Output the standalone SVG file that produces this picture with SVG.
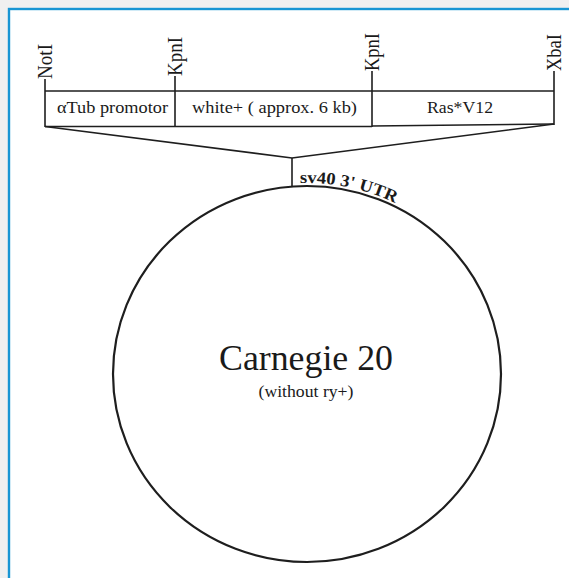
<svg xmlns="http://www.w3.org/2000/svg" width="569" height="578" viewBox="0 0 569 578">
<style>
.ln{stroke:#1e1e1e;stroke-width:1.6;fill:none}
.t{font-family:"Liberation Serif","Times New Roman",Times,serif;fill:#1a1a1a}
.site{font-size:20px}
.seg{font-size:17px}
</style>
<rect x="0" y="0" width="569" height="578" fill="#f0f0f0"/>
<rect x="9" y="9" width="600" height="600" fill="#ffffff" stroke="#1895d3" stroke-width="2.4"/>
<g id="connectors">
<line class="ln" x1="45" y1="79" x2="45" y2="127"/>
<line class="ln" x1="175" y1="76" x2="175" y2="127"/>
<line class="ln" x1="372" y1="71" x2="372" y2="127"/>
<line class="ln" x1="554" y1="71" x2="554" y2="125"/>
<polyline class="ln" points="45,126.5 292,158 554,124"/>
<line class="ln" x1="292" y1="158" x2="292" y2="187"/>
</g>
<g id="construct">
<line class="ln" x1="45" y1="91" x2="554" y2="91"/>
<line class="ln" x1="45" y1="126.5" x2="372" y2="126.5"/>
<line class="ln" x1="372" y1="126" x2="554" y2="124"/>
</g>
<g id="site-NotI"><text class="t site" transform="translate(52,79) rotate(-90)" textLength="35" lengthAdjust="spacingAndGlyphs">NotI</text></g>
<g id="site-KpnI-1"><text class="t site" transform="translate(182,76) rotate(-90)" textLength="39" lengthAdjust="spacingAndGlyphs">KpnI</text></g>
<g id="site-KpnI-2"><text class="t site" transform="translate(379,71) rotate(-90)" textLength="38" lengthAdjust="spacingAndGlyphs">KpnI</text></g>
<g id="site-XbaI"><text class="t site" transform="translate(561,71) rotate(-90)" textLength="37" lengthAdjust="spacingAndGlyphs">XbaI</text></g>
<g id="seg-tub"><text class="t seg" x="57" y="113" textLength="111" lengthAdjust="spacingAndGlyphs">αTub promotor</text></g>
<g id="seg-white"><text class="t seg" x="192" y="113" textLength="165" lengthAdjust="spacingAndGlyphs">white+ ( approx. 6 kb)</text></g>
<g id="seg-ras"><text class="t seg" x="427" y="113" textLength="66" lengthAdjust="spacingAndGlyphs">Ras*V12</text></g>
<g id="plasmid">
<ellipse cx="307" cy="374" rx="194" ry="188" fill="none" stroke="#1e1e1e" stroke-width="2.2"/>
<path id="arc" d="M 300 183.1 A 197 191 0 0 1 504 374" fill="none"/>
<text class="t" font-size="17" font-weight="bold"><textPath href="#arc" textLength="98" lengthAdjust="spacingAndGlyphs">sv40 3' UTR</textPath></text>
<text class="t" x="306" y="370" font-size="36" text-anchor="middle" textLength="174" lengthAdjust="spacingAndGlyphs">Carnegie 20</text>
<text class="t" x="306" y="397" font-size="17" text-anchor="middle" textLength="95" lengthAdjust="spacingAndGlyphs">(without ry+)</text>
</g>
</svg>
